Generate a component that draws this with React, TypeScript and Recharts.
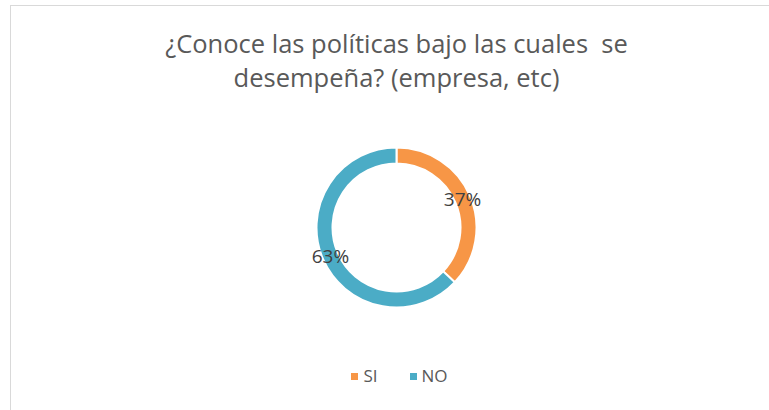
import React from 'react';
import { PieChart, Pie, Cell, Legend } from 'recharts';

// respuestas de la encuesta
const NAMES = ['SI', 'NO'];
const VALUES = [37, 63];
const COLORS = ['#F79646', '#4BACC6'];

const DATA = NAMES.map((name, i) => ({ name, value: VALUES[i] }));

const RAD = Math.PI / 180;

const renderLabel = (props: any) => {
  const { cx, cy, midAngle, innerRadius, outerRadius, percent } = props;
  const r = (innerRadius + outerRadius) / 2;
  const x = cx + r * Math.cos(-midAngle * RAD);
  const y = cy + r * Math.sin(-midAngle * RAD);
  return (
    <text
      x={x}
      y={y}
      fill="#404040"
      fontSize={19}
      fontFamily="'Open Sans', sans-serif"
      textAnchor="middle"
      dominantBaseline="central"
    >
      {`${Math.round(percent * 100)}%`}
    </text>
  );
};

// leyenda en el orden de los datos
const renderLegend = () => (
  <div style={{ display: 'flex', justifyContent: 'center', gap: 32 }}>
    {DATA.map((entry, index) => (
      <div key={index} style={{ display: 'flex', alignItems: 'center', gap: 5 }}>
        <div style={{ width: 7, height: 7, background: COLORS[index] }} />
        <span style={{ color: '#595959', fontSize: 17, lineHeight: '24px' }}>{entry.name}</span>
      </div>
    ))}
  </div>
);

export default function App() {
  return (
    <div
      style={{
        position: 'absolute',
        left: 10,
        top: 5,
        width: 759,
        height: 420,
        border: '1px solid #d9d9d9',
        background: '#fff',
        fontFamily: "'Open Sans', sans-serif",
      }}
    >
      {/* título */}
      <div
        style={{
          position: 'absolute',
          top: 20,
          left: 0,
          width: 771,
          textAlign: 'center',
          fontSize: 25.5,
          lineHeight: '34px',
          color: '#595959',
        }}
      >
        ¿Conoce las políticas bajo las cuales&nbsp; se
        <br />
        desempeña? (empresa, etc)
      </div>

      <PieChart width={759} height={405}>
        <Pie
          data={DATA}
          dataKey="value"
          nameKey="name"
          cx={380.5}
          cy={216.5}
          innerRadius={64}
          outerRadius={80}
          startAngle={90}
          endAngle={-270}
          stroke="#fff"
          strokeWidth={2}
          label={renderLabel}
          labelLine={false}
          isAnimationActive={false}
        >
          {DATA.map((entry, index) => (
            <Cell key={`cell-${index}`} fill={COLORS[index]} />
          ))}
        </Pie>
        <Legend
          content={renderLegend}
          wrapperStyle={{ left: 0, width: 777, top: 358 }}
        />
      </PieChart>
    </div>
  );
}
